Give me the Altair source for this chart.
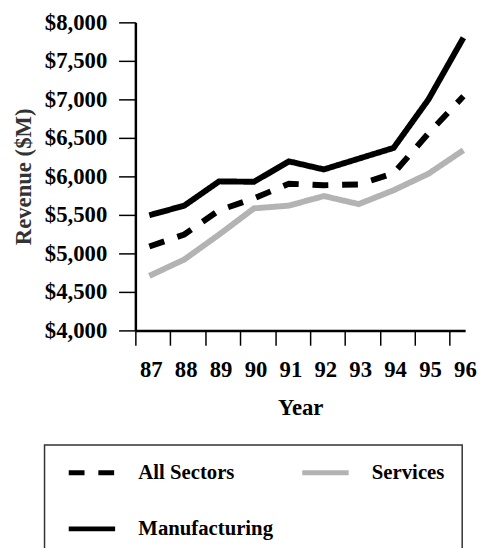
import altair as alt
import pandas as pd

years = [87, 88, 89, 90, 91, 92, 93, 94, 95, 96]
all_sectors = [5090, 5245, 5560, 5715, 5905, 5885, 5895, 6040, 6560, 7040]
services = [4708, 4920, 5245, 5585, 5620, 5745, 5640, 5820, 6035, 6340]
manufacturing = [5495, 5620, 5935, 5930, 6195, 6090, 6230, 6370, 7000, 7800]
# legend grid fills column by column: col 1 = All Sectors, Manufacturing; col 2 = Services
series_names = ["All Sectors", "Manufacturing", "Services"]
y_ticks = [4000, 4500, 5000, 5500, 6000, 6500, 7000, 7500, 8000]

rows = []
for name, vals in zip(series_names, [all_sectors, manufacturing, services]):
    for yr, v in zip(years, vals):
        rows.append({"Year": yr, "Revenue": v, "Series": name})
df = pd.DataFrame(rows)

FONT = "Liberation Serif"

legend = alt.Legend(title=None, orient="none", legendX=-92, legendY=428,
                    columns=2, columnPadding=19.5, rowPadding=35,
                    padding=17.5, strokeColor="#333333",
                    symbolType="M-0.7,0H8.7", symbolSize=100, symbolStrokeWidth=5,
                    labelFont=FONT, labelFontSize=21, labelFontWeight="bold",
                    labelColor="black", labelOffset=56.5, labelLimit=300)

chart = alt.Chart(df).mark_line(strokeWidth=6, strokeCap="butt", strokeJoin="miter").encode(
    x=alt.X("Year:Q",
            scale=alt.Scale(domain=[86.6, 96.05], nice=False, zero=False),
            axis=alt.Axis(title="Year", values=years, format="d",
                          tickOffset=-14, labelOffset=15.5,
                          tickSize=15, tickWidth=1.5, tickColor="black",
                          domainWidth=2.5, domainColor="black",
                          labelFont=FONT, labelFontSize=23, labelFontWeight="bold", labelColor="black",
                          labelPadding=13.5, titlePadding=16,
                          titleFont=FONT, titleFontSize=23, titleFontWeight="bold", titleColor="black",
                          grid=False)),
    y=alt.Y("Revenue:Q",
            scale=alt.Scale(domain=[4000, 8000], nice=False, zero=False),
            axis=alt.Axis(title="Revenue ($M)", values=y_ticks, format="$,d",
                          tickSize=17, tickWidth=1.5, tickColor="black",
                          domainWidth=2.5, domainColor="black",
                          labelFont=FONT, labelFontSize=23, labelFontWeight="bold", labelColor="black",
                          labelPadding=12, titlePadding=9,
                          titleFont=FONT, titleFontSize=23, titleFontWeight="bold", titleColor="#333333",
                          grid=False)),
    color=alt.Color("Series:N", sort=series_names,
                    scale=alt.Scale(domain=series_names, range=["#000000", "#000000", "#b3b3b3"]),
                    legend=legend),
    strokeDash=alt.StrokeDash("Series:N", sort=series_names,
                              scale=alt.Scale(domain=series_names, range=[[16, 14], [1, 0], [1, 0]]),
                              legend=legend),
).properties(
    width=334, height=312,
    padding={"left": 4, "top": 0, "right": 0, "bottom": 0},
).configure_view(stroke=None).configure_legend(strokeWidth=1.5)

chart.save("out.html", embed_options={"renderer": "svg", "actions": False})
